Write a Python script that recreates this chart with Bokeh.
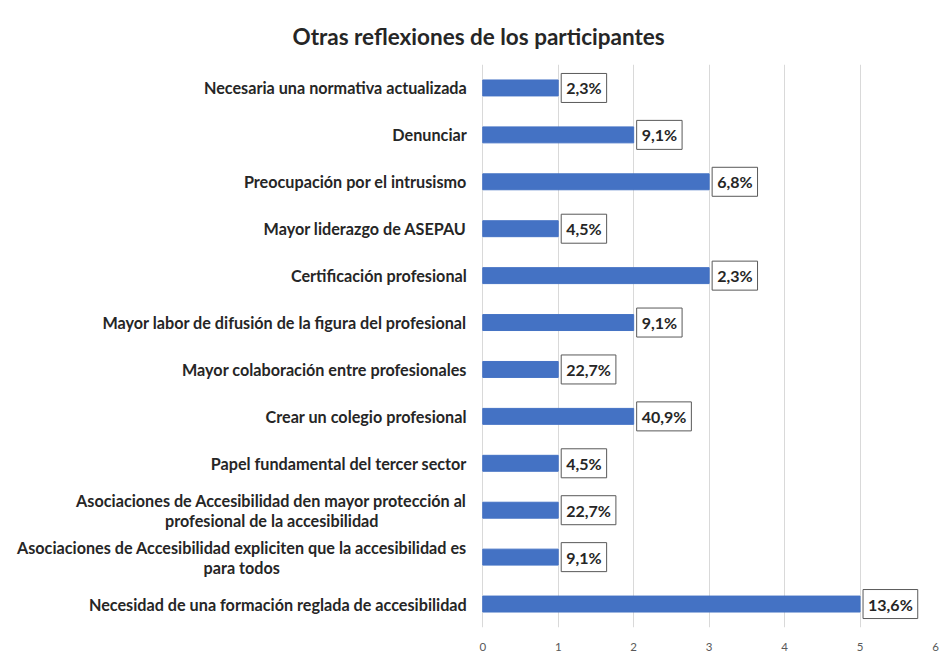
from bokeh.plotting import figure
from bokeh.models import ColumnDataSource, FactorRange, Range1d, FixedTicker
from bokeh.core.properties import value
from bokeh.embed import file_html
from bokeh.resources import INLINE

categories = [
    "Necesaria una normativa actualizada",
    "Denunciar",
    "Preocupación por el intrusismo",
    "Mayor liderazgo de ASEPAU",
    "Certificación profesional",
    "Mayor labor de difusión de la figura del profesional",
    "Mayor colaboración entre profesionales",
    "Crear un colegio profesional",
    "Papel fundamental del tercer sector",
    "Asociaciones de Accesibilidad den mayor protección al profesional de la accesibilidad",
    "Asociaciones de Accesibilidad expliciten que la accesibilidad es para todos",
    "Necesidad de una formación reglada de accesibilidad",
]
# how each category label is broken into lines (first line, second line)
label_line1 = categories[:9] + [
    "Asociaciones de Accesibilidad den mayor protección al",
    "Asociaciones de Accesibilidad expliciten que la accesibilidad es",
    categories[11],
]
label_line2 = [""] * 9 + ["profesional de la accesibilidad", "para todos", ""]
values = [1, 2, 3, 1, 3, 2, 1, 2, 1, 1, 1, 5]
labels = ["2,3%", "9,1%", "6,8%", "4,5%", "2,3%", "9,1%", "22,7%", "40,9%", "4,5%", "22,7%", "9,1%", "13,6%"]
x_ticks = [0, 1, 2, 3, 4, 5, 6]

FONT = "Lato"
DARK = "#262626"
CAT_SIZE = "16.2px"

# screen offsets for the left-hand category texts
GAP = 16
line1_yoff = [-10 if l2 else 0 for l2 in label_line2]
line2_xoff = [-GAP - 195 if i == 9 else -GAP - 225 for i in range(len(categories))]

source = ColumnDataSource(dict(cat=categories, val=values, lab=labels,
                               zero=[0] * len(categories),
                               l1=label_line1, l2=label_line2,
                               y1=line1_yoff, x2=line2_xoff))

p = figure(
    width=941, height=657,
    y_range=FactorRange(factors=list(reversed(categories)), range_padding=0),
    x_range=Range1d(-6.391, 6),
    output_backend="svg", toolbar_location=None,
    min_border_left=0, min_border_right=6, min_border_top=64, min_border_bottom=30,
    title="Otras reflexiones de los participantes",
)
p.title.text_font = FONT
p.title.text_font_size = "22.5px"
p.title.text_font_style = "bold"
p.title.text_color = DARK
p.title.align = "left"
p.title.offset = 292
p.title.standoff = 30

p.hbar(y="cat", right="val", left=0, height=0.34, source=source,
       fill_color="#4472C4", line_color="#4472C4")

p.text(x="val", y="cat", text="lab", source=source,
       x_offset=3, text_align="left", text_baseline="middle",
       text_font=value(FONT), text_font_size="16px", text_font_style="bold",
       text_color=DARK,
       background_fill_color="white", border_line_color="#595959",
       border_line_width=1, padding=5)

# category labels
p.text(x="zero", y="cat", text="l1", source=source,
       x_offset=-GAP, y_offset="y1", text_align="right", text_baseline="middle",
       text_font=value(FONT), text_font_size=CAT_SIZE, text_font_style="bold",
       text_color=DARK)
p.text(x="zero", y="cat", text="l2", source=source,
       x_offset="x2", y_offset=10, text_align="center", text_baseline="middle",
       text_font=value(FONT), text_font_size=CAT_SIZE, text_font_style="bold",
       text_color=DARK)

p.xaxis.ticker = FixedTicker(ticks=x_ticks)
p.xaxis.axis_line_color = None
p.xaxis.major_tick_line_color = None
p.xaxis.minor_tick_line_color = None
p.xaxis.major_label_text_font = FONT
p.xaxis.major_label_text_font_size = "11.5px"
p.xaxis.major_label_text_color = "#595959"
p.xaxis.major_label_standoff = 9

p.yaxis.visible = False
p.ygrid.grid_line_color = None
p.xgrid.ticker = FixedTicker(ticks=x_ticks)
p.xgrid.grid_line_color = "#D9D9D9"
p.xgrid.grid_line_width = 1
p.outline_line_color = None

open("out.html", "w").write(file_html(p, INLINE))
